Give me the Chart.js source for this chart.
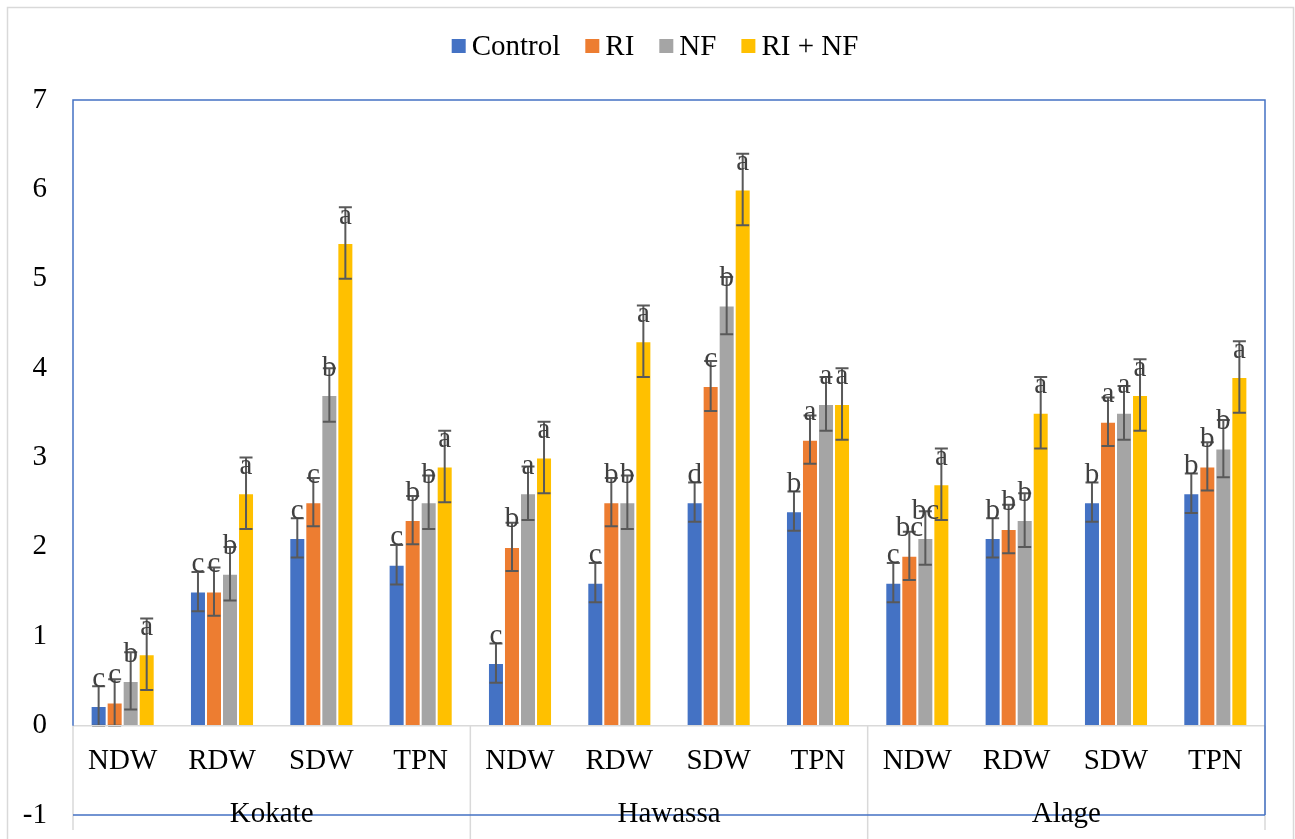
<!DOCTYPE html>
<html>
<head>
<meta charset="utf-8">
<script src="https://cdn.jsdelivr.net/npm/chart.js@4"></script>
<style>
  html, body { margin: 0; padding: 0; background: #fff; }
  #wrap { width: 1295px; height: 839px; }
</style>
</head>
<body>
<div id="wrap"><canvas id="traitChart"></canvas></div>
<script>
// categories
const traits = ['NDW', 'RDW', 'SDW', 'TPN'];
const locations = ['Kokate', 'Hawassa', 'Alage'];
const seriesNames = ['Control', 'RI', 'NF', 'RI + NF'];
const yTicks = [-1, 0, 1, 2, 3, 4, 5, 6, 7];

// series values (Kokate x4, Hawassa x4, Alage x4)
const control = [0.22, 1.5, 2.1, 1.8, 0.7, 1.6, 2.5, 2.4, 1.6, 2.1, 2.5, 2.6];
const ri      = [0.26, 1.5, 2.5, 2.3, 2.0, 2.5, 3.8, 3.2, 1.9, 2.2, 3.4, 2.9];
const nf      = [0.5, 1.7, 3.7, 2.5, 2.6, 2.5, 4.7, 3.6, 2.1, 2.3, 3.5, 3.1];
const riNf    = [0.8, 2.6, 5.4, 2.9, 3.0, 4.3, 6.0, 3.6, 2.7, 3.5, 3.7, 3.9];

// error bars (+/-)
const controlErr = [0.22, 0.22, 0.22, 0.22, 0.22, 0.22, 0.22, 0.22, 0.22, 0.22, 0.22, 0.22];
const riErr      = [0.26, 0.27, 0.27, 0.27, 0.27, 0.27, 0.28, 0.27, 0.27, 0.27, 0.27, 0.27];
const nfErr      = [0.32, 0.3, 0.3, 0.3, 0.3, 0.3, 0.32, 0.3, 0.3, 0.3, 0.3, 0.32];
const riNfErr    = [0.4, 0.4, 0.4, 0.4, 0.4, 0.4, 0.4, 0.4, 0.4, 0.4, 0.4, 0.4];

// significance letters
const controlSig = ['c', 'c', 'c', 'c', 'c', 'c', 'd', 'b', 'c', 'b', 'b', 'b'];
const riSig      = ['c', 'c', 'c', 'b', 'b', 'b', 'c', 'a', 'bc', 'b', 'a', 'b'];
const nfSig      = ['b', 'b', 'b', 'b', 'a', 'b', 'b', 'a', 'bc', 'b', 'a', 'b'];
const riNfSig    = ['a', 'a', 'a', 'a', 'a', 'a', 'a', 'a', 'a', 'a', 'a', 'a'];

const colors = ['#4472C4', '#ED7D31', '#A5A5A5', '#FFC000'];
const FONT = '"Liberation Serif", "Times New Roman", serif';

const labels = [];
locations.forEach(loc => traits.forEach(t => labels.push(t)));

const values = [control, ri, nf, riNf];
const errors = [controlErr, riErr, nfErr, riNfErr];
const letters = [controlSig, riSig, nfSig, riNfSig];

const decorations = {
    id: 'decorations',
    beforeDraw(chart) {
        const ctx = chart.ctx;
        ctx.save();
        ctx.fillStyle = '#fff';
        ctx.fillRect(0, 0, chart.width, chart.height);
        ctx.strokeStyle = '#D9D9D9';
        ctx.lineWidth = 1.5;
        ctx.strokeRect(7.5, 7.5, chart.width - 9, chart.height + 20);
        ctx.restore();
    },
    afterDatasetsDraw(chart) {
        const ctx = chart.ctx;
        const y = chart.scales.y;
        ctx.save();
        // error bars
        ctx.strokeStyle = '#595959';
        ctx.lineWidth = 2;
        values.forEach((vals, d) => {
            const meta = chart.getDatasetMeta(d);
            meta.data.forEach((bar, i) => {
                const top = y.getPixelForValue(vals[i] + errors[d][i]);
                const bot = y.getPixelForValue(Math.max(0, vals[i] - errors[d][i]));
                ctx.beginPath();
                ctx.moveTo(bar.x, top); ctx.lineTo(bar.x, bot);
                ctx.moveTo(bar.x - 6.5, top); ctx.lineTo(bar.x + 6.5, top);
                ctx.moveTo(bar.x - 6.5, bot); ctx.lineTo(bar.x + 6.5, bot);
                ctx.stroke();
            });
        });
        // letters
        ctx.fillStyle = '#404040';
        ctx.font = '29px ' + FONT;
        ctx.textAlign = 'center';
        ctx.textBaseline = 'middle';
        values.forEach((vals, d) => {
            const meta = chart.getDatasetMeta(d);
            meta.data.forEach((bar, i) => {
                ctx.fillText(letters[d][i], bar.x, y.getPixelForValue(vals[i]) - 27);
            });
        });
        ctx.restore();
    },
    afterDraw(chart) {
        const ctx = chart.ctx;
        const area = chart.chartArea;
        const x = chart.scales.x;
        const y = chart.scales.y;
        const y0 = y.getPixelForValue(0);
        const yMin = y.getPixelForValue(-1);
        const catW = (area.right - area.left) / labels.length;
        ctx.save();
        // category axis line and group separators
        ctx.strokeStyle = '#D9D9D9';
        ctx.lineWidth = 1.5;
        ctx.beginPath();
        ctx.moveTo(area.left, y0); ctx.lineTo(area.right, y0);
        for (let g = 0; g <= locations.length; g++) {
            const gx = area.left + g * traits.length * catW;
            const edge = (g === 0 || g === locations.length);
            ctx.moveTo(gx, y0); ctx.lineTo(gx, edge ? 830 : chart.height);
        }
        ctx.stroke();
        // plot border
        ctx.strokeStyle = '#4472C4';
        ctx.lineWidth = 1.5;
        ctx.beginPath();
        ctx.moveTo(area.left, y0); ctx.lineTo(area.left, area.top);
        ctx.lineTo(area.right, area.top); ctx.lineTo(area.right, yMin);
        ctx.moveTo(area.left, yMin); ctx.lineTo(area.right, yMin);
        ctx.stroke();
        // category labels
        ctx.fillStyle = '#000';
        ctx.font = '29px ' + FONT;
        ctx.textAlign = 'center';
        ctx.textBaseline = 'middle';
        labels.forEach((lab, i) => {
            ctx.fillText(lab, x.getPixelForValue(i), y0 + 36);
        });
        locations.forEach((loc, g) => {
            const cx = area.left + (g + 0.5) * traits.length * catW;
            ctx.fillText(loc, cx, yMin - 1);
        });
        // legend
        const box = 14, gapText = 6, gapItem = 25;
        const widths = seriesNames.map(n => box + gapText + ctx.measureText(n).width);
        const total = widths.reduce((a, b) => a + b, 0) + gapItem * (widths.length - 1);
        let lx = 655 - total / 2;
        const ly = 46;
        ctx.textAlign = 'left';
        seriesNames.forEach((n, i) => {
            ctx.fillStyle = colors[i];
            ctx.fillRect(lx, ly - box / 2, box, box);
            ctx.fillStyle = '#000';
            ctx.fillText(n, lx + box + gapText, ly + 1);
            lx += widths[i] + gapItem;
        });
        ctx.restore();
    }
};

const ctx = document.getElementById('traitChart').getContext('2d');
new Chart(ctx, {
    type: 'bar',
    data: {
        labels: labels,
        datasets: seriesNames.map((name, i) => ({
            label: name,
            data: values[i],
            backgroundColor: colors[i],
            borderColor: 'rgba(255,255,255,0.7)',
            borderWidth: 1,
            barPercentage: 1,
            categoryPercentage: 0.645
        }))
    },
    options: {
        responsive: true,
        maintainAspectRatio: false,
        animation: false,
        layout: {
            padding: { top: 100, right: 30, bottom: 24, left: 0 }
        },
        scales: {
            x: {
                display: false
            },
            y: {
                min: -1,
                max: 7,
                afterFit: (scale) => {
                    scale.width = 73;
                    scale.paddingTop = 0;
                    scale.paddingBottom = 0;
                },
                afterBuildTicks: (scale) => { scale.ticks = yTicks.map(v => ({ value: v })); },
                grid: { display: false, drawTicks: false },
                border: { display: false },
                ticks: {
                    padding: 26,
                    color: '#000',
                    font: { family: FONT, size: 29 }
                }
            }
        },
        plugins: {
            legend: { display: false },
            tooltip: { enabled: false }
        }
    },
    plugins: [decorations]
});
</script>
</body>
</html>
